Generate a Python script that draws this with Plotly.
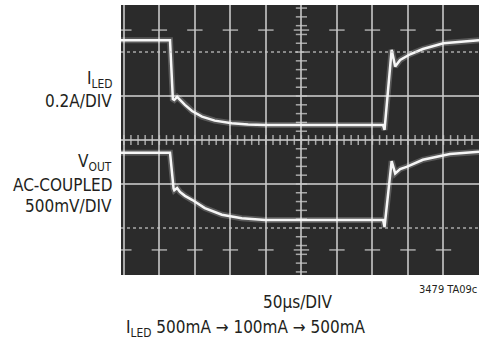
import plotly.graph_objects as go

# time axis in microseconds (50us/DIV), vertical in scope divisions
t_iled = [-4, 65, 69, 71, 75, 79, 86, 96, 110, 128, 152, 175, 199, 365, 367, 377, 382, 389, 403, 421, 450, 500]
v_iled = [2.27, 2.27, 0.93, 0.91, 0.98, 0.91, 0.80, 0.66, 0.53, 0.44, 0.38, 0.35, 0.34, 0.34, 0.23, 2.05, 1.67, 1.82, 1.95, 2.07, 2.20, 2.27]

t_vout = [-4, 65, 70, 71, 75, 79, 86, 96, 114, 138, 166, 199, 365, 367, 377, 382, 389, 398, 421, 459, 500]
v_vout = [-0.29, -0.29, -1.10, -1.14, -1.09, -1.18, -1.27, -1.36, -1.55, -1.70, -1.78, -1.82, -1.82, -1.98, -0.48, -0.76, -0.66, -0.61, -0.45, -0.32, -0.27]

x_grid = [0, 50, 100, 150, 200, 250, 300, 350, 400, 450]
y_grid = [-1, 0, 1]

W, H = 479, 341
grid_col = "rgba(200,200,200,0.8)"
font = "Liberation Sans Narrow, DejaVu Sans Condensed, Arial Narrow, sans-serif"

fig = go.Figure()

# graticule details: minor ticks on centre lines, short dashes at +/-2.5 div
minor_x = [i * 10 for i in range(50)]
fig.add_trace(go.Scatter(x=minor_x, y=[0] * len(minor_x), mode="markers",
                         marker=dict(symbol="line-ns", size=7, line=dict(color=grid_col, width=1.5)),
                         hoverinfo="skip", showlegend=False))
minor_y = [round(-3 + i * 0.2, 2) for i in range(31)]
fig.add_trace(go.Scatter(x=[250] * len(minor_y), y=minor_y, mode="markers",
                         marker=dict(symbol="line-ew", size=8, line=dict(color=grid_col, width=1.5)),
                         hoverinfo="skip", showlegend=False))
for yy in (2.5, -2.5):
    fig.add_trace(go.Scatter(x=x_grid, y=[yy] * len(x_grid), mode="markers",
                             marker=dict(symbol="line-ew", size=11, line=dict(color=grid_col, width=1.5)),
                             hoverinfo="skip", showlegend=False))
for yy in (2, -2):
    fig.add_hline(y=yy, line=dict(color=grid_col, width=1.5, dash="3px,3px"))

# traces with a soft glow underneath
for t, v in ((t_iled, v_iled), (t_vout, v_vout)):
    fig.add_trace(go.Scatter(x=t, y=v, mode="lines", line=dict(color="rgba(255,255,255,0.22)", width=6),
                             hoverinfo="skip", showlegend=False))
    fig.add_trace(go.Scatter(x=t, y=v, mode="lines", line=dict(color="#f6f6f6", width=2.5),
                             hoverinfo="skip", showlegend=False))

fig.update_xaxes(domain=[121 / W, 1], range=[-4, 500], tickvals=x_grid, showticklabels=False,
                 showgrid=True, gridcolor=grid_col, gridwidth=1.5, zeroline=False, showline=False, ticks="")
fig.update_yaxes(domain=[1 - 275 / H, 1 - 5 / H], range=[-3.07, 3.07], tickvals=y_grid, showticklabels=False,
                 showgrid=True, gridcolor=grid_col, gridwidth=1.5, zeroline=False, showline=False, ticks="")

def label(text, x, y, size, anchor="right"):
    fig.add_annotation(text=text, x=x / W, y=1 - y / H, xref="paper", yref="paper", xanchor=anchor,
                       yanchor="middle", showarrow=False, font=dict(family=font, size=size, color="#231f20"))

label("I<sub>LED</sub>", 114, 79, 17)
label("0.2A/DIV", 114, 101, 17)
label("V<sub>OUT</sub>", 114, 162, 17)
label("AC-COUPLED", 114, 185, 17)
label("500mV/DIV", 114, 206, 17)
label("3479 TA09c", 479, 289, 11)
label("50µs/DIV", 298, 302, 17, anchor="center")
label("I<sub>LED</sub> 500mA → 100mA → 500mA", 246, 328, 17, anchor="center")

fig.update_layout(width=W, height=H, margin=dict(l=0, r=0, t=0, b=0),
                  paper_bgcolor="white", plot_bgcolor="#2b2b2b", showlegend=False)

fig.write_html("out.html", config={"displayModeBar": False},
               post_script="document.body.style.margin='0px';")
